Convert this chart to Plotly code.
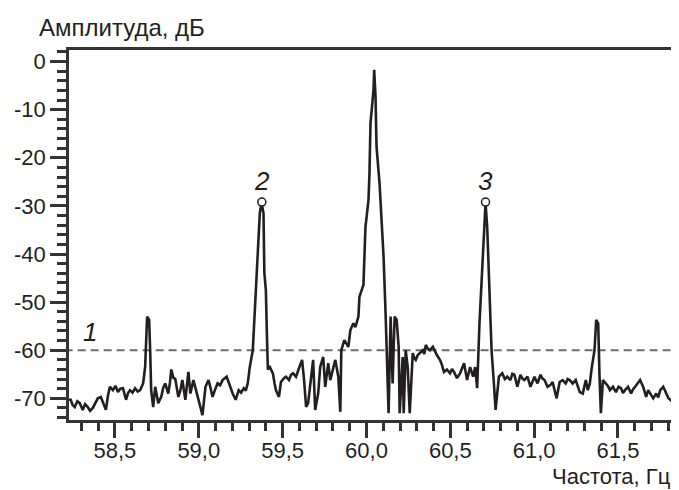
import plotly.graph_objects as go

# spectrum: frequency (Hz) and amplitude (dB)
freq = [58.224, 58.236, 58.248, 58.26, 58.276, 58.29, 58.308, 58.322, 58.338, 58.352,
        58.368, 58.384, 58.398, 58.416, 58.428, 58.44, 58.446, 58.458, 58.47, 58.488,
        58.503, 58.518, 58.532, 58.548, 58.566, 58.578, 58.59, 58.605, 58.62, 58.636,
        58.65, 58.668, 58.68, 58.692, 58.704, 58.71, 58.716, 58.728, 58.74, 58.75,
        58.758, 58.776, 58.788, 58.80, 58.818, 58.828, 58.836, 58.848, 58.86, 58.878,
        58.89, 58.902, 58.92, 58.938, 58.95, 58.968, 58.98, 58.992, 59.01, 59.022,
        59.04, 59.058, 59.07, 59.082, 59.097, 59.112, 59.127, 59.142, 59.166, 59.178,
        59.19, 59.202, 59.22, 59.238, 59.252, 59.268, 59.28, 59.292, 59.304, 59.322,
        59.328, 59.34, 59.352, 59.364, 59.374, 59.386, 59.391, 59.40, 59.406, 59.412,
        59.424, 59.442, 59.452, 59.46, 59.478, 59.49, 59.508, 59.52, 59.538, 59.55,
        59.562, 59.58, 59.598, 59.616, 59.628, 59.64, 59.652, 59.67, 59.682, 59.694,
        59.712, 59.724, 59.742, 59.754, 59.772, 59.784, 59.802, 59.814, 59.832, 59.844,
        59.85, 59.868, 59.892, 59.904, 59.922, 59.934, 59.952, 59.958, 59.982, 59.994,
        60.012, 60.018, 60.024, 60.042, 60.046, 60.054, 60.06, 60.078, 60.09, 60.102,
        60.114, 60.12, 60.132, 60.144, 60.156, 60.168, 60.18, 60.192, 60.198, 60.216,
        60.222, 60.234, 60.246, 60.258, 60.276, 60.285, 60.294, 60.306, 60.318, 60.336,
        60.345, 60.354, 60.366, 60.378, 60.396, 60.408, 60.42, 60.438, 60.45, 60.462,
        60.48, 60.498, 60.51, 60.522, 60.54, 60.558, 60.57, 60.582, 60.60, 60.618,
        60.636, 60.648, 60.66, 60.666, 60.674, 60.686, 60.698, 60.71, 60.72, 60.73,
        60.746, 60.76, 60.77, 60.79, 60.81, 60.825, 60.84, 60.858, 60.87, 60.882,
        60.90, 60.918, 60.93, 60.942, 60.96, 60.978, 60.99, 61.002, 61.02, 61.038,
        61.05, 61.062, 61.08, 61.098, 61.11, 61.122, 61.134, 61.152, 61.17, 61.188,
        61.2, 61.212, 61.23, 61.248, 61.26, 61.272, 61.29, 61.308, 61.32, 61.332,
        61.344, 61.36, 61.37, 61.382, 61.39, 61.398, 61.41, 61.428, 61.44, 61.452,
        61.47, 61.488, 61.503, 61.518, 61.53, 61.542, 61.56, 61.578, 61.59, 61.602,
        61.617, 61.632, 61.65, 61.668, 61.68, 61.692, 61.71, 61.728, 61.74, 61.752,
        61.77, 61.788, 61.8, 61.812, 61.824, 61.842, 61.86]
amp = [-70.3, -70.3, -71.4, -71.8, -70.6, -71.0, -72.4, -71.2, -71.8, -72.6,
       -72.0, -71.0, -70.0, -69.7, -70.8, -71.8, -72.4, -69.5, -67.6, -68.3,
       -67.4, -68.7, -68.0, -67.9, -70.3, -68.9, -68.3, -68.8, -67.9, -68.6,
       -68.3, -66.9, -63.5, -53.0, -53.7, -60.0, -68.3, -71.8, -67.6, -69.4,
       -71.0, -69.7, -67.8, -66.9, -69.0, -66.8, -64.0, -65.7, -66.0, -69.7,
       -68.4, -66.2, -70.3, -64.5, -69.0, -66.2, -67.9, -69.7, -72.4, -73.5,
       -67.6, -66.2, -67.8, -69.7, -68.2, -66.9, -67.3, -66.2, -65.5, -66.9,
       -67.8, -69.0, -70.3, -68.3, -68.8, -67.9, -68.4, -66.9, -63.5, -60.0,
       -55.8, -49.5, -40.6, -31.5, -29.4, -31.5, -43.9, -47.5, -56.4, -64.0,
       -63.5, -64.8, -66.9, -68.3, -69.7, -66.6, -65.8, -65.5, -66.2, -65.1,
       -64.8, -65.5, -63.7, -62.0, -66.2, -71.8, -71.0, -66.2, -62.0, -72.4,
       -69.0, -63.5, -61.4, -67.6, -62.7, -66.2, -64.0, -62.0, -65.5, -72.8,
       -60.0, -57.9, -59.3, -55.8, -54.4, -55.2, -53.0, -48.9, -46.4, -34.4,
       -28.8, -23.2, -12.8, -5.9, -1.7, -7.3, -17.7, -25.3, -32.9, -40.6,
       -52.3, -60.0, -73.1, -53.0, -66.9, -53.0, -53.7, -59.3, -73.1, -61.4,
       -73.1, -60.0, -63.5, -73.1, -60.6, -61.6, -62.0, -61.0, -60.6, -60.0,
       -60.8, -58.9, -59.7, -60.0, -59.3, -60.3, -61.0, -62.0, -63.0, -64.5,
       -64.0, -64.8, -63.9, -64.5, -65.8, -64.8, -63.6, -62.7, -66.2, -63.5,
       -65.5, -63.5, -67.9, -60.0, -54.4, -46.1, -37.1, -29.4, -34.4, -46.1,
       -60.0, -66.9, -72.4, -65.5, -64.8, -66.0, -65.5, -66.2, -64.9, -65.1,
       -67.6, -65.1, -65.9, -66.2, -65.5, -67.6, -66.3, -65.5, -66.9, -65.1,
       -65.9, -66.2, -67.6, -67.2, -66.6, -68.3, -70.0, -66.6, -66.2, -66.9,
       -66.0, -66.2, -66.9, -66.2, -67.5, -68.7, -69.0, -66.2, -68.3, -66.9,
       -63.5, -60.0, -53.7, -54.4, -65.5, -73.1, -66.2, -66.9, -67.4, -68.3,
       -67.6, -68.7, -67.6, -67.9, -68.9, -68.3, -67.6, -69.0, -68.1, -67.6,
       -66.8, -66.2, -67.6, -69.7, -68.3, -69.0, -70.0, -69.0, -69.8, -68.3,
       -67.6, -69.0, -69.9, -70.3, -70.7, -69.0, -68.7]

# threshold line (1) and marked peaks (2, 3)
level_x = [58.2, 61.9]
level_y = [-60, -60]
peak_x = [59.376, 60.71]
peak_y = [-29.2, -29.2]
peak_labels = ["2", "3"]

x_ticks = [58.5, 59.0, 59.5, 60.0, 60.5, 61.0, 61.5]
x_tick_labels = ["58,5", "59,0", "59,5", "60,0", "60,5", "61,0", "61,5"]
y_ticks = [0, -10, -20, -30, -40, -50, -60, -70]
y_tick_labels = ["0", "-10", "-20", "-30", "-40", "-50", "-60", "-70"]

ink = "#231f20"
font = "Liberation Sans, Arial, sans-serif"

fig = go.Figure()
fig.add_trace(go.Scatter(x=level_x, y=level_y, mode="lines",
                         line=dict(color="#6d6d6d", width=2, dash="8px,5px")))
fig.add_trace(go.Scatter(x=freq, y=amp, mode="lines",
                         line=dict(color=ink, width=2.6)))
fig.add_trace(go.Scatter(x=peak_x, y=peak_y, mode="markers",
                         marker=dict(symbol="circle", size=8, color="white",
                                     line=dict(color=ink, width=1.5))))

for px, lab in zip(peak_x, peak_labels):
    fig.add_annotation(x=px, y=-24.8, text="<i>" + lab + "</i>", showarrow=False,
                       font=dict(size=26, color=ink, family=font))
fig.add_annotation(x=58.35, y=-56.2, text="<i>1</i>", showarrow=False,
                   font=dict(size=26, color=ink, family=font))

fig.add_annotation(xref="paper", yref="paper", x=-0.053, y=1.062, xanchor="left",
                   yanchor="middle", text="Амплитуда, дБ", showarrow=False,
                   font=dict(size=24, color=ink, family=font))
fig.add_annotation(xref="paper", yref="paper", x=0.997, y=-0.154, xanchor="right",
                   yanchor="middle", text="Частота, Гц", showarrow=False,
                   font=dict(size=22, color=ink, family=font))

# the page body adds an 8px offset, so the margins are shifted to compensate
fig.update_layout(
    width=679, height=490,
    margin=dict(l=61, r=12, t=42, b=78, autoexpand=False),
    paper_bgcolor="white", plot_bgcolor="white",
    showlegend=False,
    font=dict(family=font, size=22, color=ink),
)
fig.update_xaxes(range=[58.226, 61.84], tickmode="array", tickvals=x_ticks,
                 ticktext=x_tick_labels, ticks="outside", ticklen=15, tickwidth=2.5,
                 tickcolor="#333", showgrid=False, zeroline=False, automargin=False,
                 showline=True, linewidth=2.5, linecolor="#333", mirror=True,
                 tickfont=dict(size=22), ticklabelstandoff=-6,
                 minor=dict(ticks="outside", ticklen=8, tickwidth=2.5, tickcolor="#333",
                            dtick=0.1, tick0=58.5, showgrid=False))
fig.update_yaxes(range=[-74.5, 2.4], tickmode="array", tickvals=y_ticks,
                 ticktext=y_tick_labels, ticks="outside", ticklen=16, tickwidth=2.5,
                 tickcolor="#333", showgrid=False, zeroline=False, automargin=False,
                 showline=True, linewidth=2.5, linecolor="#333", mirror=True,
                 tickfont=dict(size=22),
                 minor=dict(ticks="outside", ticklen=9, tickwidth=2.5, tickcolor="#333",
                            dtick=2, tick0=0, showgrid=False))

fig.write_html("out.html")
